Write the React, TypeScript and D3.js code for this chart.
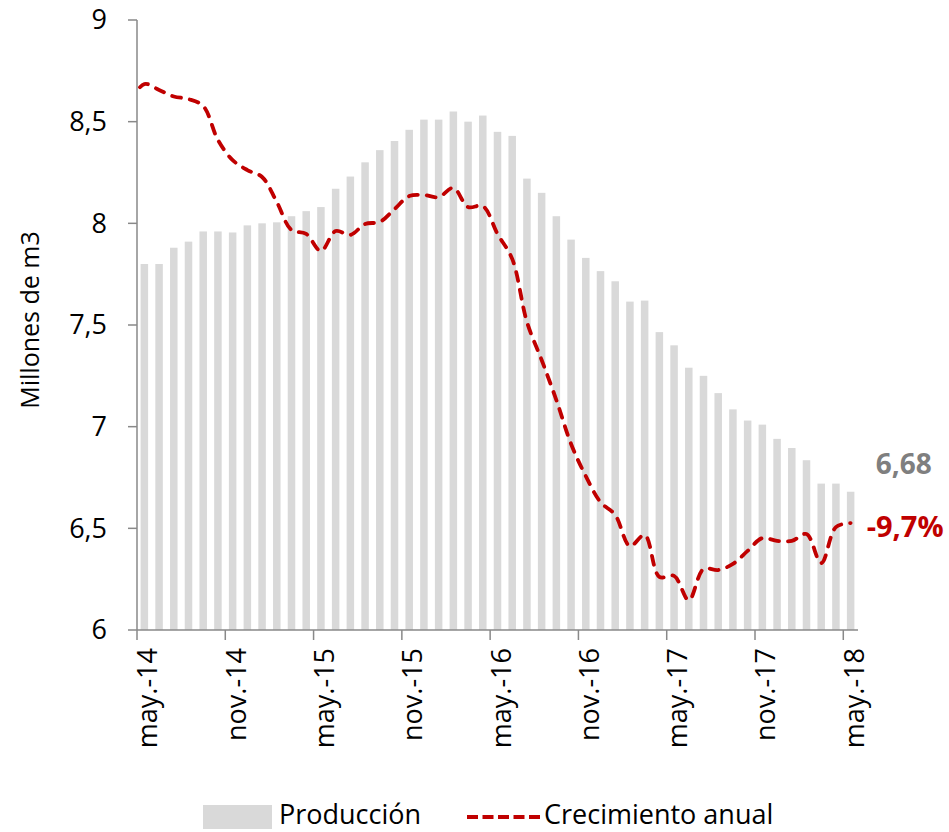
import React, { useEffect, useRef } from 'react';
import * as d3 from 'd3';

// meses (may-14 .. may-18)
const meses = [
  'may.-14', 'jun.-14', 'jul.-14', 'ago.-14', 'sep.-14', 'oct.-14', 'nov.-14', 'dic.-14',
  'ene.-15', 'feb.-15', 'mar.-15', 'abr.-15', 'may.-15', 'jun.-15', 'jul.-15', 'ago.-15',
  'sep.-15', 'oct.-15', 'nov.-15', 'dic.-15', 'ene.-16', 'feb.-16', 'mar.-16', 'abr.-16',
  'may.-16', 'jun.-16', 'jul.-16', 'ago.-16', 'sep.-16', 'oct.-16', 'nov.-16', 'dic.-16',
  'ene.-17', 'feb.-17', 'mar.-17', 'abr.-17', 'may.-17', 'jun.-17', 'jul.-17', 'ago.-17',
  'sep.-17', 'oct.-17', 'nov.-17', 'dic.-17', 'ene.-18', 'feb.-18', 'mar.-18', 'abr.-18',
  'may.-18',
];

// Producción, millones de m3
const produccion = [
  7.80, 7.80, 7.88, 7.91, 7.96, 7.96, 7.955, 7.99, 8.0, 8.005, 8.035, 8.06,
  8.08, 8.17, 8.23, 8.30, 8.36, 8.405, 8.46, 8.51, 8.51, 8.55, 8.50, 8.53,
  8.45, 8.43, 8.22, 8.15, 8.035, 7.92, 7.83, 7.765, 7.715, 7.615, 7.62, 7.465,
  7.40, 7.29, 7.25, 7.165, 7.085, 7.03, 7.01, 6.94, 6.895, 6.835, 6.72, 6.72,
  6.68,
];

// Crecimiento anual, drawn on a hidden secondary scale (expressed here in the
// units of the visible axis). First value is abr.-14, clipped by the plot area.
const crecimiento = [
  8.597,
  8.685, 8.656, 8.624, 8.611, 8.577, 8.41, 8.311, 8.262, 8.228, 8.105, 7.967, 7.948,
  7.864, 7.962, 7.943, 7.997, 8.007, 8.07, 8.134, 8.139, 8.129, 8.174, 8.08, 8.085,
  7.948, 7.825, 7.515, 7.328, 7.131, 6.915, 6.757, 6.629, 6.566, 6.413, 6.467, 6.261,
  6.266, 6.147, 6.3, 6.295, 6.325, 6.389, 6.452, 6.438, 6.438, 6.472, 6.329, 6.506,
  6.526,
];

const yTicks = [6, 6.5, 7, 7.5, 8, 8.5, 9];
const xTickLabels = ['may.-14', 'nov.-14', 'may.-15', 'nov.-15', 'may.-16', 'nov.-16', 'may.-17', 'nov.-17', 'may.-18'];
const etiquetaProduccion = '6,68';
const etiquetaCrecimiento = '-9,7%';

const FONT = "'Open Sans', 'Noto Sans', sans-serif";
const GRIS = '#d9d9d9';
const ROJO = '#c00000';
const EJE = '#898989';

const App = () => {
  const svgRef = useRef<SVGSVGElement>(null);

  useEffect(() => {
    const W = 949;
    const H = 832;
    const margin = { top: 20, right: 91, bottom: 202, left: 137 };
    const width = W - margin.left - margin.right;
    const height = H - margin.top - margin.bottom;

    const svg = d3.select(svgRef.current);
    svg.selectAll('*').remove();
    svg.attr('width', W).attr('height', H);

    svg.append('defs').append('clipPath').attr('id', 'plot-clip')
      .append('rect').attr('x', 0).attr('y', -10).attr('width', width).attr('height', height + 10);

    const chart = svg.append('g').attr('transform', `translate(${margin.left},${margin.top})`);

    const x = d3.scaleBand().domain(meses).range([0, width]).paddingInner(0.49).paddingOuter(0.245);
    const step = x.step();
    const y = d3.scaleLinear().domain([6, 9]).range([height, 0]);

    // bars
    chart.selectAll('rect.bar')
      .data(produccion)
      .enter()
      .append('rect')
      .attr('class', 'bar')
      .attr('x', (d, i) => x(meses[i]))
      .attr('y', (d) => y(d))
      .attr('width', x.bandwidth())
      .attr('height', (d) => height - y(d))
      .attr('fill', GRIS);

    // line (index -1 = abr.-14)
    const xi = d3.scaleLinear().domain([0, meses.length - 1])
      .range([x(meses[0]) + x.bandwidth() / 2, x(meses[meses.length - 1]) + x.bandwidth() / 2]);
    const line = d3.line<number>()
      .x((d, i) => xi(i - 1))
      .y((d) => y(d))
      .curve(d3.curveCatmullRom.alpha(0.5));

    chart.append('path')
      .datum(crecimiento)
      .attr('clip-path', 'url(#plot-clip)')
      .attr('fill', 'none')
      .attr('stroke', ROJO)
      .attr('stroke-width', 3.8)
      .attr('stroke-linecap', 'round')
      .attr('stroke-dasharray', '9 9')
      .attr('d', line);

    // y axis
    const yAxis = chart.append('g');
    yAxis.append('line').attr('x1', 0).attr('x2', 0).attr('y1', 0).attr('y2', height)
      .attr('stroke', EJE).attr('stroke-width', 1.5);
    yTicks.forEach((t) => {
      yAxis.append('line').attr('x1', -9).attr('x2', 0).attr('y1', y(t)).attr('y2', y(t))
        .attr('stroke', EJE).attr('stroke-width', 1.5);
      yAxis.append('text')
        .attr('x', -30).attr('y', y(t)).attr('dy', '0.35em')
        .attr('text-anchor', 'end')
        .attr('font-family', FONT).attr('font-size', 27).attr('fill', '#000')
        .text(d3.format('')(t).replace('.', ','));
    });

    chart.append('text')
      .attr('transform', `translate(${30 - margin.left},${height / 2 - 5}) rotate(-90)`)
      .attr('text-anchor', 'middle')
      .attr('dy', '0.35em')
      .attr('font-family', FONT).attr('font-size', 25).attr('fill', '#000')
      .text('Millones de m3');

    // x axis
    const xAxis = chart.append('g').attr('transform', `translate(0,${height})`);
    xAxis.append('line').attr('x1', 0).attr('x2', width).attr('y1', 0).attr('y2', 0)
      .attr('stroke', EJE).attr('stroke-width', 1.5);
    xTickLabels.forEach((m) => {
      const tx = x(m) - (step - x.bandwidth()) / 2;
      xAxis.append('line').attr('x1', tx).attr('x2', tx).attr('y1', 0).attr('y2', 10)
        .attr('stroke', EJE).attr('stroke-width', 1.5);
      xAxis.append('text')
        .attr('transform', `translate(${tx + 11},${18}) rotate(-90)`)
        .attr('text-anchor', 'end')
        .attr('dy', '0.35em')
        .attr('font-family', FONT).attr('font-size', 27).attr('fill', '#000')
        .text(m);
    });

    // end labels
    const last = meses.length - 1;
    const xEnd = x(meses[last]) + x.bandwidth() / 2;
    chart.append('text')
      .attr('x', xEnd + 25).attr('y', y(produccion[last]) - 28).attr('dy', '0.35em')
      .attr('font-family', FONT).attr('font-size', 28).attr('font-weight', 'bold')
      .attr('fill', '#7f7f7f')
      .text(etiquetaProduccion);
    chart.append('text')
      .attr('x', xEnd + 16).attr('y', y(crecimiento[crecimiento.length - 1]) + 4).attr('dy', '0.35em')
      .attr('font-family', FONT).attr('font-size', 29).attr('font-weight', 'bold')
      .attr('fill', ROJO)
      .text(etiquetaCrecimiento);

    // legend
    const legend = svg.append('g').attr('transform', `translate(0,815)`);
    legend.append('rect').attr('x', 203).attr('y', -10).attr('width', 69).attr('height', 24).attr('fill', GRIS);
    legend.append('text').attr('x', 279).attr('y', 0).attr('dy', '0.35em')
      .attr('font-family', FONT).attr('font-size', 27).attr('fill', '#000')
      .text('Producción');
    legend.append('line').attr('x1', 467).attr('x2', 540).attr('y1', 2).attr('y2', 2)
      .attr('stroke', ROJO).attr('stroke-width', 3.8)
      .attr('stroke-dasharray', '11 4.5');
    legend.append('text').attr('x', 544).attr('y', 0).attr('dy', '0.35em')
      .attr('font-family', FONT).attr('font-size', 27).attr('fill', '#000')
      .text('Crecimiento anual');
  }, []);

  return (
    <div style={{ position: 'absolute', left: 0, top: 0, width: 949, height: 832, background: '#fff' }}>
      <svg ref={svgRef}></svg>
    </div>
  );
};

export default App;
